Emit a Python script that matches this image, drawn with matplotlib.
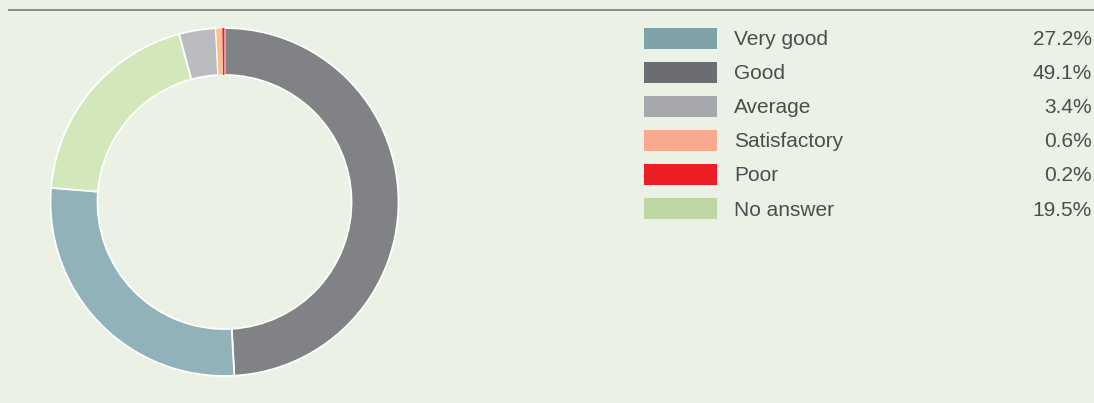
"""Donut chart of ratings with a legend table on the right."""

import matplotlib

matplotlib.use("Agg")
import matplotlib.pyplot as plt
from matplotlib.patches import Rectangle

# legend order
categories = ["Very good", "Good", "Average", "Satisfactory", "Poor", "No answer"]
shares = [27.2, 49.1, 3.4, 0.6, 0.2, 19.5]
value_labels = ["27.2%", "49.1%", "3.4%", "0.6%", "0.2%", "19.5%"]

# order the ring is drawn in, clockwise from 12 o'clock
ring_order = ["Good", "Very good", "No answer", "Average", "Satisfactory", "Poor"]

swatch_colors = {
    "Very good": "#7FA2A9",
    "Good": "#6C6D71",
    "Average": "#A6A8AB",
    "Satisfactory": "#F9A98D",
    "Poor": "#EE1C25",
    "No answer": "#BDD6A4",
}
ring_colors = {
    "Very good": "#92B2BA",
    "Good": "#818286",
    "Average": "#BBBCC0",
    "Satisfactory": "#FBC08E",
    "Poor": "#E3202A",
    "No answer": "#D2E7BA",
}

BG = "#EBF1E4"
TEXT = "#4D4D4F"
W, H = 1094, 403

fig = plt.figure(figsize=(W / 100, H / 100), dpi=100, facecolor=BG)

# pixel-coordinate overlay for the rule and the legend
ov = fig.add_axes([0, 0, 1, 1])
ov.set_xlim(0, W)
ov.set_ylim(H, 0)
ov.axis("off")
ov.plot([8, W], [10, 10], color="#7E887F", lw=1.3, solid_capstyle="butt")

# donut
cx, cy, r = 224.5, 202, 174
ax = fig.add_axes([(cx - r) / W, (H - cy - r) / H, 2 * r / W, 2 * r / H])
ax.set_facecolor(BG)
vals = [shares[categories.index(c)] for c in ring_order]
wedges, _ = ax.pie(
    vals,
    colors=[ring_colors[c] for c in ring_order],
    startangle=90,
    counterclock=False,
    radius=1,
    wedgeprops=dict(width=0.27, edgecolor="white", linewidth=1.3),
)
# keep the thinnest slices visible above their neighbours' outlines
sat = wedges[ring_order.index("Satisfactory")]
sat.set_linewidth(0.5)
sat.set_zorder(5)
poor = wedges[ring_order.index("Poor")]
poor.set_linewidth(0)
poor.set_zorder(6)
ax.set_xlim(-1.0, 1.0)
ax.set_ylim(-1.0, 1.0)
ax.set_aspect("equal")
ax.axis("off")

# legend table
for i, (cat, lab) in enumerate(zip(categories, value_labels)):
    yc = 38 + 34.1 * i
    ov.add_patch(Rectangle((644, yc - 10.5), 73, 21, facecolor=swatch_colors[cat],
                           edgecolor="none"))
    ov.text(734, yc + 1.5, cat, fontsize=15, color=TEXT, va="center", ha="left",
            family="Liberation Sans")
    ov.text(1092, yc + 1.5, lab, fontsize=15, color=TEXT, va="center", ha="right",
            family="Liberation Sans")

fig.savefig("out.png", dpi=100, facecolor=BG)
